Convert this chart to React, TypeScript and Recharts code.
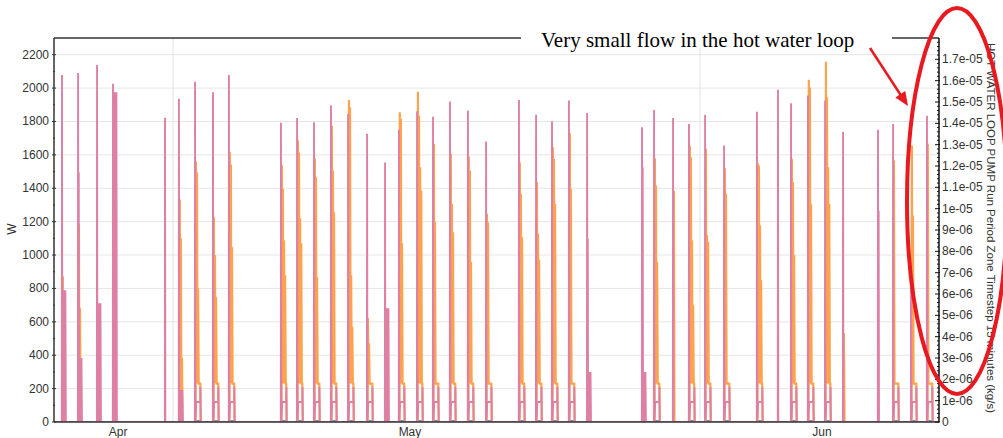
import { LineChart, Line, XAxis, YAxis, ReferenceLine } from 'recharts';

// event start (day offset from the left edge of the plot)
const eventDays = [
  0.47, 1.42, 2.54, 3.48, 6.55, 7.37, 8.32, 9.38, 10.32, 13.39, 14.34, 15.34, 16.34, 17.35, 18.47,
  19.53, 20.35, 21.42, 22.36, 23.36, 24.42, 25.49, 27.43, 28.44, 29.38, 30.38, 31.45, 34.69, 35.4,
  36.52, 37.46, 38.41, 39.53, 41.47, 42.71, 43.48, 44.48, 45.49, 46.55, 48.61, 49.5, 50.56, 51.5,
];
const pinkPeaks = [
  2078, 2090, 2138, 2026, 1823, 1936, 2038, 1975, 2078, 1793, 1821, 1795, 1895, 1845, 1726,
  1554, 1751, 1861, 1829, 1919, 1865, 1680, 1929, 1841, 1801, 1925, 1851, 1765, 1869,
  1821, 1785, 1841, 1656, 1859, 1990, 1909, 1955, 1925, 1739, 1751, 1785, 930, 1835,
];
const pinkSeconds = [
  0, 1496, 0, 0, 0, 0, 0, 0, 0, 0, 0, 0, 0, 0, 0,
  0, 0, 0, 0, 0, 0, 0, 0, 0, 0, 0, 1098, 1526, 0,
  0, 0, 0, 0, 0, 0, 0, 0, 0, 0, 1267, 0, 0, 0,
];
const pinkFills = [
  789, 383, 711, 1975, 0, 191, 0, 0, 0, 0, 0, 0, 0, 0, 0,
  681, 0, 0, 0, 0, 0, 0, 0, 0, 0, 0, 300, 300, 0,
  0, 0, 0, 0, 0, 0, 0, 0, 0, 0, 0, 0, 0, 0,
];
const hasPlateau = [
  false, false, false, false, false, false, true, true, true, true, true, true, true, true, true,
  false, true, true, true, true, true, true, true, true, true, true, false, false, true,
  false, true, true, true, true, false, true, true, true, false, false, true, true, true,
];
const orangeLevels: number[][] = [
  [873], [1183, 681], [], [], [], [1333, 1100, 383], [1560, 1496, 801], [1227, 998, 749],
  [1616, 1542, 1048], [1540, 1397, 1088, 879], [1686, 1614, 1220, 1070], [1580, 1466, 869],
  [1775, 1506, 1257], [1929, 1885, 879, 570], [622, 472], [], [1855, 1815, 1070],
  [1978, 1835, 1526, 1387], [1666, 1200], [1606, 1307, 1137], [1590, 1506, 958], [1247, 1197],
  [1556, 1367, 1108], [1437, 1128, 972], [1646, 1576, 1307], [1729, 1397], [], [],
  [1580, 1417, 958], [1383], [1656, 1586, 1088, 699], [1636, 1118, 1078], [1520, 1367],
  [1550, 1536, 1178, 849], [], [1576, 1437, 998], [2050, 2004, 1307], [2158, 1945, 1526, 1307],
  [532], [], [1566], [1656, 1237], [1666],
];
const plateauLevel = 120;
const plateauEdge = 210;
const orangeTrough = 230;
const flowLevel = 5e-8;

const xMax = 52.21;
const monthTicks = [3.78, 21.0, 45.31];
const monthLabels = ['Apr', 'May', 'Jun'];
const weekLines = [7.02, 38.11];
const leftMajor = [0, 200, 400, 600, 800, 1000, 1200, 1400, 1600, 1800, 2000, 2200];
const leftMinor = [100, 300, 500, 700, 900, 1100, 1300, 1500, 1700, 1900, 2100];
const rightLabels = [
  '0', '1e-06', '2e-06', '3e-06', '4e-06', '5e-06', '6e-06', '7e-06', '8e-06', '9e-06',
  '1e-05', '1.1e-05', '1.2e-05', '1.3e-05', '1.4e-05', '1.5e-05', '1.6e-05', '1.7e-05',
];
const rightStep = 2e-7;
const rightTicks = Array.from({ length: 90 }, (_, i) => i * rightStep);

type Pt = { t: number; v: number };

const pinkData: Pt[] = [{ t: 0, v: 0 }];
const orangeData: Pt[] = [{ t: 0, v: 0 }];
const flowData: Pt[] = [{ t: 0, v: 0 }];

eventDays.forEach((s, i) => {
  pinkData.push({ t: s - 0.01, v: 0 }, { t: s, v: pinkPeaks[i] }, { t: s + 0.02, v: 0 });
  if (pinkSeconds[i]) pinkData.push({ t: s + 0.04, v: pinkSeconds[i] }, { t: s + 0.06, v: 0 });
  if (hasPlateau[i]) {
    pinkData.push(
      { t: s + 0.07, v: plateauLevel },
      { t: s + 0.31, v: plateauLevel },
      { t: s + 0.32, v: plateauEdge },
      { t: s + 0.34, v: 0 },
    );
    flowData.push({ t: s + 0.06, v: 0 }, { t: s + 0.07, v: flowLevel }, { t: s + 0.3, v: flowLevel }, { t: s + 0.31, v: 0 });
  } else if (pinkFills[i]) {
    [0.08, 0.14, 0.2].forEach((o) => pinkData.push({ t: s + o, v: pinkFills[i] }, { t: s + o + 0.03, v: 0 }));
  }
  const lv = orangeLevels[i];
  if (lv.length) {
    const trough = hasPlateau[i] ? orangeTrough : 0;
    orangeData.push({ t: s + 0.03, v: 0 });
    lv.forEach((h, k) => orangeData.push({ t: s + 0.05 + 0.065 * k, v: h }, { t: s + 0.085 + 0.065 * k, v: trough }));
    orangeData.push({ t: s + 0.31, v: trough }, { t: s + 0.33, v: 0 });
  }
});
pinkData.push({ t: xMax, v: 0 });
orangeData.push({ t: xMax, v: 0 });
flowData.push({ t: xMax, v: 0 });

const PINK = '#de80a4';
const ORANGE = '#fba44d';
const FLOW = '#2f6fb5';
const TEXT = '#333';

const LeftTick = ({ x, y, payload }: any) => {
  const major = payload.value % 200 === 0;
  return (
    <g>
      <line x1={x + (major ? 2 : 3)} x2={x + (major ? 6 : 5)} y1={y} y2={y} stroke={TEXT} />
      {major && (
        <text x={x - 1} y={y} dy={4} textAnchor="end" fontSize={12} fill={TEXT}>
          {payload.value}
        </text>
      )}
    </g>
  );
};

const RightTick = ({ x, y, payload }: any) => {
  const i = Math.round(payload.value / rightStep);
  const major = i % 5 === 0;
  const label = major ? rightLabels[i / 5] : undefined;
  return (
    <g>
      <line x1={x - (major ? 7 : 5)} x2={x - (major ? 2 : 3)} y1={y} y2={y} stroke="#111" />
      {label && (
        <text x={x} y={y} dy={4} textAnchor="start" fontSize={12} fill={TEXT}>
          {label}
        </text>
      )}
    </g>
  );
};

export default function App() {
  return (
    <div style={{ position: 'absolute', left: 0, top: 0, width: 1003, height: 438, background: '#fff', fontFamily: '"Liberation Sans", Arial, sans-serif' }}>
      <LineChart width={1003} height={438} margin={{ top: 38, right: 0, bottom: 0, left: 0 }}>
        {leftMajor.slice(1).map((v) => (
          <ReferenceLine key={'g' + v} yAxisId="left" y={v} stroke="#e6e6e6" strokeWidth={1} />
        ))}
        {weekLines.map((v) => (
          <ReferenceLine key={'w' + v} yAxisId="left" x={v} stroke="#e2e2e2" strokeWidth={1} />
        ))}
        <ReferenceLine yAxisId="left" y={2300} stroke="#666" strokeWidth={2} />
        <Line yAxisId="right" data={flowData} dataKey="v" stroke={FLOW} strokeWidth={1.5} dot={false} activeDot={false} isAnimationActive={false} />
        <Line yAxisId="left" data={orangeData} dataKey="v" stroke={ORANGE} strokeWidth={2.2} dot={false} activeDot={false} isAnimationActive={false} />
        <Line yAxisId="left" data={pinkData} dataKey="v" stroke={PINK} strokeWidth={1.9} dot={false} activeDot={false} isAnimationActive={false} />
        <XAxis
          dataKey="t"
          type="number"
          domain={[0, xMax]}
          allowDataOverflow
          ticks={monthTicks}
          tickFormatter={(v: number) => monthLabels[monthTicks.indexOf(v)] ?? ''}
          height={16}
          tickSize={0}
          tickMargin={5}
          tick={{ fontSize: 12, fill: TEXT }}
          axisLine={{ stroke: '#333', strokeWidth: 1.5 }}
        />
        <YAxis
          yAxisId="left"
          domain={[0, 2300]}
          allowDataOverflow
          ticks={[...leftMajor, ...leftMinor].sort((a, b) => a - b)}
          interval={0}
          width={54}
          tickSize={0}
          tickMargin={4}
          tickLine={false}
          tick={<LeftTick />}
          axisLine={{ stroke: '#333', strokeWidth: 1.5 }}
        />
        <YAxis
          yAxisId="right"
          orientation="right"
          domain={[0, 1.8e-5]}
          allowDataOverflow
          ticks={rightTicks}
          interval={0}
          width={64}
          tickSize={0}
          tickMargin={3}
          tickLine={false}
          tick={<RightTick />}
          axisLine={{ stroke: '#111', strokeWidth: 1.5 }}
        />
      </LineChart>
      <svg width={1003} height={438} style={{ position: 'absolute', left: 0, top: 0, pointerEvents: 'none' }}>
        <text x={12} y={229} fontSize={12} fill={TEXT} textAnchor="middle" dominantBaseline="central" transform="rotate(-90 12 229)">
          W
        </text>
        <text x={991} y={228} fontSize={11.5} fill={TEXT} textAnchor="middle" dominantBaseline="central" transform="rotate(90 991 228)">
          HOT WATER LOOP PUMP Run Period Zone Timestep 15 minutes (kg/s)
        </text>
        <rect x={521} y={26} width={371} height={22} fill="#fff" />
        <text x={541} y={47} fontSize={21} fill="#000" fontFamily='"Liberation Serif", "Times New Roman", serif'>
          Very small flow in the hot water loop
        </text>
        <line x1={870} y1={48} x2={902} y2={97} stroke="#e8191f" strokeWidth={2.5} />
        <polygon points="908,106 895.3,97.6 905.3,91" fill="#e8191f" />
        <ellipse cx={957} cy={201} rx={50} ry={193} fill="none" stroke="#e8191f" strokeWidth={4} />
      </svg>
    </div>
  );
}
